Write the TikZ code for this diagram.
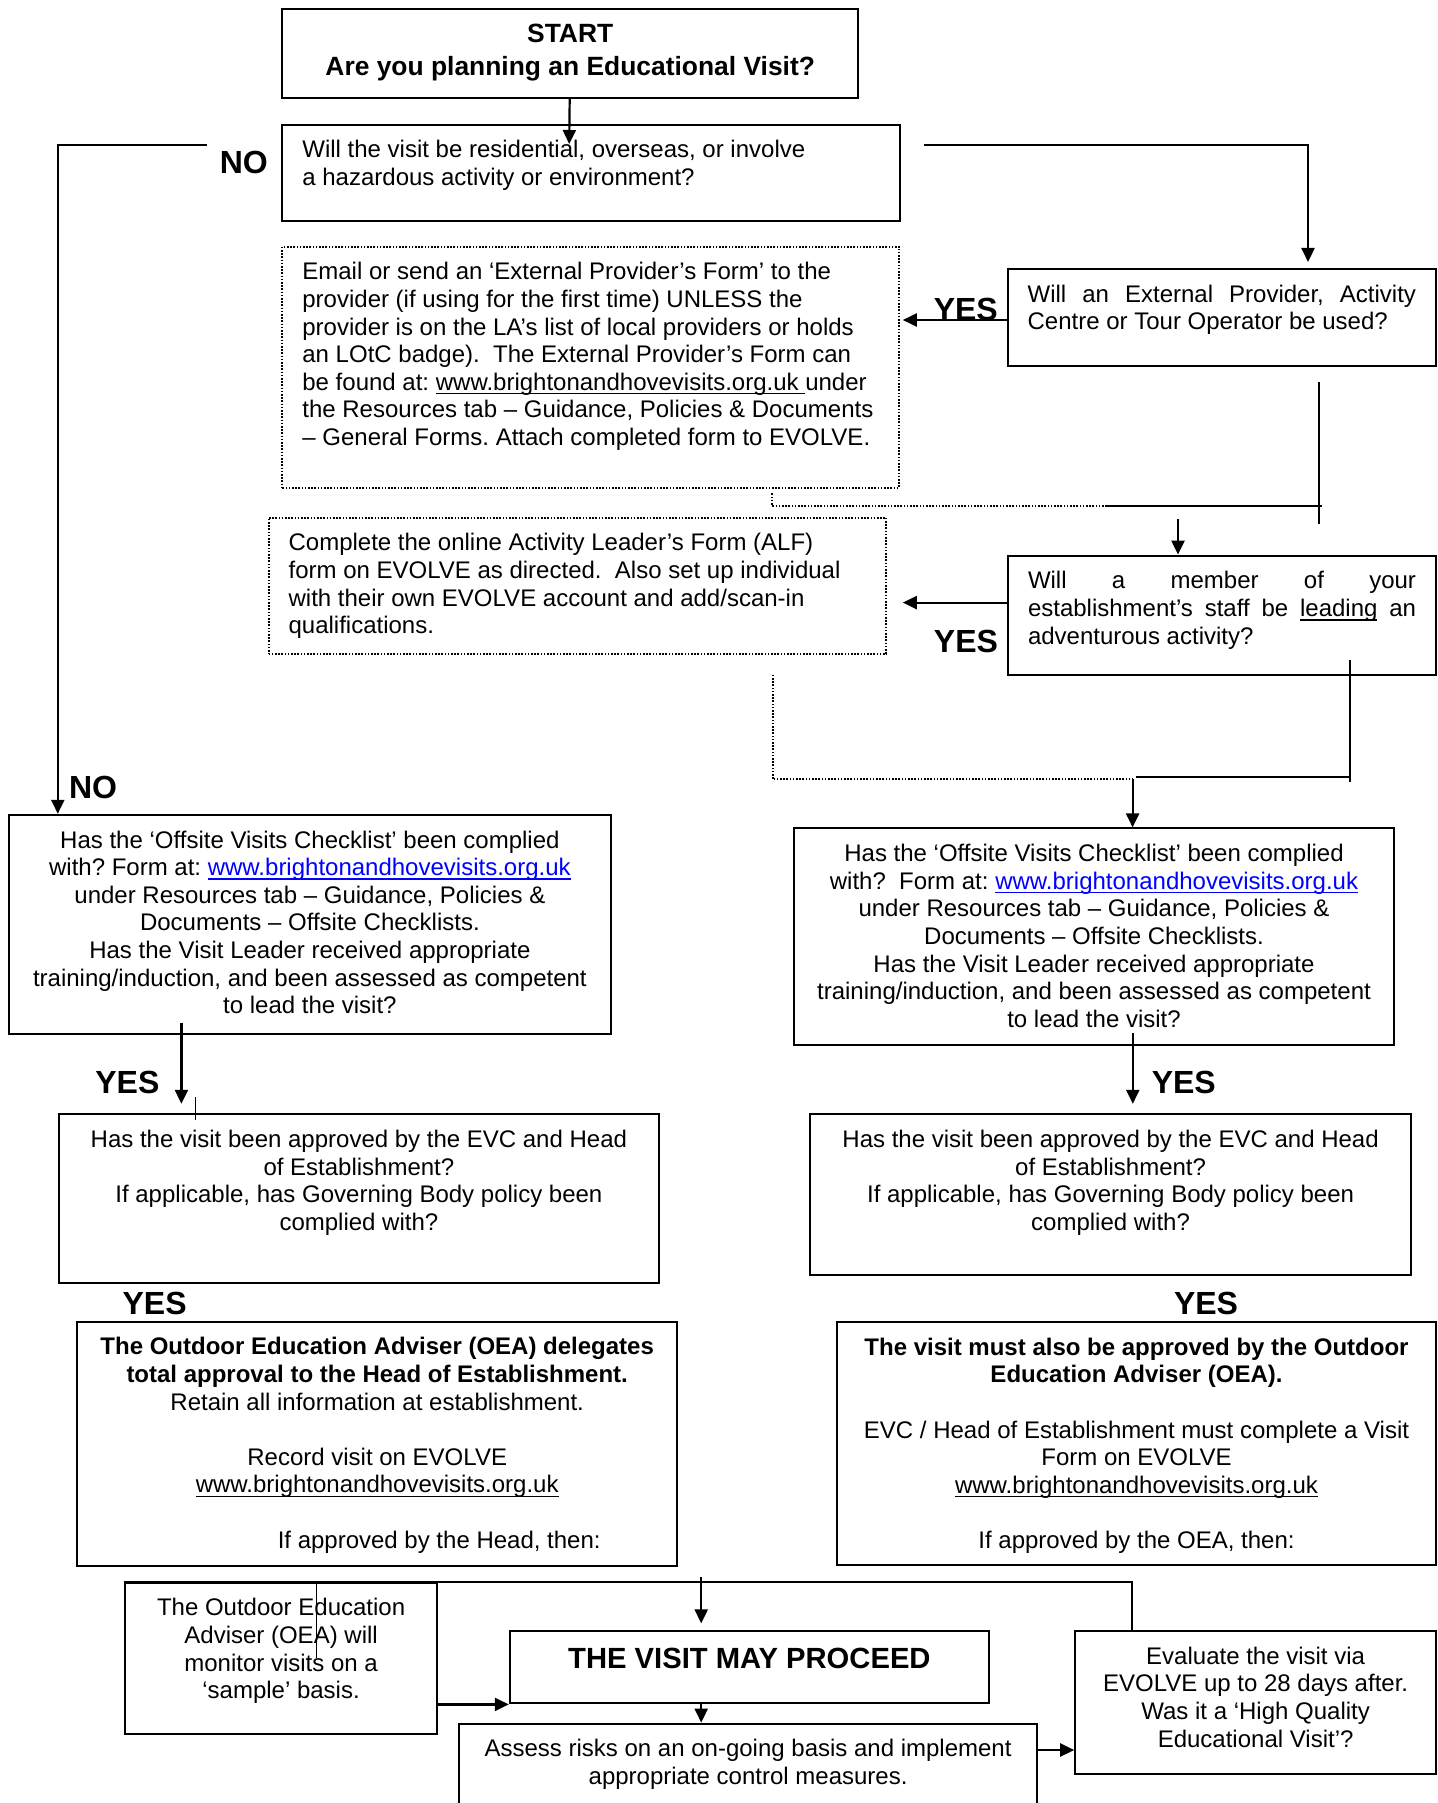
\documentclass[tikz,border=0pt]{standalone}
\usepackage{fontspec}
\setmainfont{Liberation Sans}
\usetikzlibrary{arrows.meta}
\definecolor{linkblue}{RGB}{0,0,255}
\newcommand{\uln}[1]{\leavevmode\setbox0\hbox{#1}\rlap{\rule[-2pt]{\wd0}{0.7pt}}\box0\relax}
\newcommand{\weblink}[1]{{\color{linkblue}\uln{#1}}}
\frenchspacing

\tikzset{
  qbox/.style={draw, line width=1pt, anchor=north west, inner xsep=10pt, inner ysep=7pt, font=\fontsize{12}{13.8}\selectfont},
  dotbox/.style={qbox, line width=1pt, dash pattern=on 0.8pt off 0.8pt},
  yesno/.style={font=\fontsize{16}{18}\selectfont\bfseries, inner sep=0pt},
  arr/.style={line width=1.1pt, -{Triangle[length=7pt,width=6.5pt]}},
  ln/.style={line width=1.1pt},
  dotln/.style={line width=1pt, dash pattern=on 0.8pt off 0.8pt},
}

\begin{document}
\begin{tikzpicture}[x=1pt, y=-1pt]
\useasboundingbox (0,0) rectangle (718.5,901.5);

% boxes
\node[qbox, inner ysep=5.5pt, font=\fontsize{13.2}{16.3}\selectfont\bfseries] (start) at (140.7,3.8)
  {\parbox[t][33.6pt][t]{267.8pt}{\centering\strut START\\Are you planning an Educational Visit?}};
\node[qbox] (q1) at (140.7,61.8)
  {\parbox[t][34.2pt][t]{288.9pt}{\raggedright\strut Will the visit be residential, overseas, or involve\\a hazardous activity or environment?}};
\node[dotbox] (ext) at (140.7,122.8)
  {\parbox[t][106.5pt][t]{288.5pt}{\raggedright\strut Email or send an ‘External Provider’s Form’ to the\\
   provider (if using for the first time) UNLESS the\\
   provider is on the LA’s list of local providers or holds\\
   an LOtC badge).\ \ The External Provider’s Form can\\
   be found at: \uln{www.brightonandhovevisits.org.uk\ }under\\
   the Resources tab – Guidance, Policies \& Documents\\
   – General Forms. Attach completed form to EVOLVE.}};
\node[qbox] (q2) at (503.3,134)
  {\parbox[t][34.4pt][t]{194.2pt}{\strut Will an External Provider, Activity\linebreak Centre or Tour Operator be used?}};
\node[dotbox] (alf) at (133.8,258.3)
  {\parbox[t][54pt][t]{288.9pt}{\raggedright\strut Complete the online Activity Leader’s Form (ALF)\\
   form on EVOLVE as directed.\ \ Also set up individual\\
   with their own EVOLVE account and add/scan-in\\
   qualifications.}};
\node[qbox] (q3) at (503.5,277.3)
  {\parbox[t][45.7pt][t]{194pt}{\strut Will a member of your\linebreak establishment’s staff be \uln{leading} an\linebreak adventurous activity?}};
\node[qbox] (lcheck) at (4.1,406.9)
  {\parbox[t][95.4pt][t]{280.7pt}{\centering\strut Has the ‘Offsite Visits Checklist’ been complied\\
   with? Form at: \weblink{www.brightonandhovevisits.org.uk}\\
   under Resources tab – Guidance, Policies \&\\
   Documents – Offsite Checklists.\\
   Has the Visit Leader received appropriate\\
   training/induction, and been assessed as competent\\
   to lead the visit?}};
\node[qbox] (rcheck) at (396.4,413.7)
  {\parbox[t][94.1pt][t]{280.2pt}{\centering\strut Has the ‘Offsite Visits Checklist’ been complied\\
   with?\ \ Form at: \weblink{www.brightonandhovevisits.org.uk}\\
   under Resources tab – Guidance, Policies \&\\
   Documents – Offsite Checklists.\\
   Has the Visit Leader received appropriate\\
   training/induction, and been assessed as competent\\
   to lead the visit?}};
\node[qbox] (lapp) at (28.9,556.6)
  {\parbox[t][70.2pt][t]{280.1pt}{\centering\strut Has the visit been approved by the EVC and Head\\
   of Establishment?\\
   If applicable, has Governing Body policy been\\
   complied with?}};
\node[qbox] (rapp) at (404.7,556.6)
  {\parbox[t][66.4pt][t]{280.2pt}{\centering\strut Has the visit been approved by the EVC and Head\\
   of Establishment?\\
   If applicable, has Governing Body policy been\\
   complied with?}};
\node[qbox] (loea) at (38,660.3)
  {\parbox[t][108.2pt][t]{280.2pt}{\centering\strut\textbf{The Outdoor Education Adviser (OEA) delegates}\\
   \textbf{total approval to the Head of Establishment.}\\
   Retain all information at establishment.\\[\baselineskip]
   Record visit on EVOLVE\\
   \uln{www.brightonandhovevisits.org.uk}\\[\baselineskip]
   \hspace*{62pt}If approved by the Head, then:}};
\node[qbox] (roea) at (418,660.5)
  {\parbox[t][107.7pt][t]{279.5pt}{\centering\strut\textbf{The visit must also be approved by the Outdoor}\\
   \textbf{Education Adviser (OEA).}\\[\baselineskip]
   EVC / Head of Establishment must complete a Visit\\
   Form on EVOLVE\\
   \uln{www.brightonandhovevisits.org.uk}\\[\baselineskip]
   If approved by the OEA, then:}};
\node[qbox] (mon) at (61.9,790.8)
  {\parbox[t][61.5pt][t]{136.3pt}{\centering\strut The Outdoor Education\\Adviser (OEA) will\\monitor visits on a\\‘sample’ basis.}};
\node[qbox, font=\fontsize{14.6}{16.8}\selectfont\bfseries] (proceed) at (254.4,815)
  {\parbox[t][22.2pt][t]{219.6pt}{\centering\strut THE VISIT MAY PROCEED}};
\node[qbox] (assess) at (229.2,861.3)
  {\parbox[t][46pt][t]{268.7pt}{\centering\strut Assess risks on an on-going basis and implement\\appropriate control measures.}};
\node[qbox] (eval) at (537.1,815)
  {\parbox[t][57.7pt][t]{160.4pt}{\centering\strut Evaluate the visit via\\EVOLVE up to 28 days after.\\Was it a ‘High Quality\\Educational Visit’?}};

% labels
\node[yesno] (no1) at (121.9,81.3) {NO};
\node[yesno] (yes1) at (482.9,154.6) {YES};
\node[yesno] (yes2) at (483,320.6) {YES};
\node[yesno] (no2) at (46.5,393.7) {NO};
\node[yesno] (yes3) at (63.7,541.2) {YES};
\node[yesno] (yes4) at (591.9,541.2) {YES};
\node[yesno] (yes5) at (77.3,651.5) {YES};
\node[yesno] (yes6) at (603,651.5) {YES};

% top part
\coordinate (q1in) at (284.6,72);
\draw[arr] (start) -- (q1in);
\coordinate (noA) at (103.5,72.5);
\coordinate (noB) at (28.9,72.5);
\draw[arr] (noA) -- (noB) -- (noB |- lcheck.north);
\coordinate (yesA) at (462,72.5);
\coordinate (yesB) at (654,72.5);
\coordinate (q2in) at (654,131);
\draw[arr] (yesA) -- (yesB) -- (q2in);
\coordinate (extin) at (451.4,160);
\draw[arr] (q2.west |- extin) -- (extin);

% join under q2
\coordinate (j1) at (659.4,191);
\coordinate (j2) at (659.4,262.2);
\coordinate (j3) at (552.7,252.8);
\coordinate (j4) at (660.8,252.8);
\coordinate (j5) at (385.9,246.7);
\draw[ln] (j1) -- (j2);
\draw[ln] (j3) -- (j4);
\draw[dotln] (j5) -- (j5 |- j3) -- (j3);
\coordinate (q3in) at (589,259.7);
\draw[arr] (q3in) -- (q3in |- q3.north);
\coordinate (alfin) at (451.4,301.3);
\draw[arr] (q3.west |- alfin) -- (alfin);

% join under q3
\coordinate (k1) at (675,330);
\coordinate (k2) at (675,391);
\coordinate (k3) at (568,388.5);
\coordinate (k5) at (386.3,337.4);
\coordinate (k6) at (566.3,389.7);
\draw[ln] (k1) -- (k2);
\draw[ln] (k3) -- (k3 -| k1);
\draw[dotln] (k5) -- (k5 |- k6) -- (k6);
\draw[arr] (k6) -- (k6 |- rcheck.north);

% checklists to approval
\coordinate (ly1) at (90.7,511.3);
\coordinate (ly2) at (90.7,551.9);
\draw[arr] (ly1) -- (ly2);
\draw[line width=0.6pt] (97.6,548.6) -- (97.6,560.1);
\coordinate (ry1) at (566.4,516.5);
\coordinate (ry2) at (566.4,551.9);
\draw[arr] (ry1) -- (ry2);

% bottom part
\coordinate (b1) at (566,790.8);
\draw[ln] (mon.north west) -- (b1) -- (b1 |- eval.north);
\draw[line width=0.6pt] (158.1,790.8) -- (158.1,829.2);
\coordinate (pin) at (350.6,788.3);
\coordinate (pin2) at (350.6,811.7);
\draw[arr] (pin) -- (pin2);
\draw[arr] (mon.east |- proceed.south) -- (proceed.south west);
\draw[arr] (proceed.south -| pin) -- (assess.north -| pin);
\coordinate (ein) at (537.1,875);
\draw[arr] (assess.east |- ein) -- (ein);
\end{tikzpicture}
\end{document}
